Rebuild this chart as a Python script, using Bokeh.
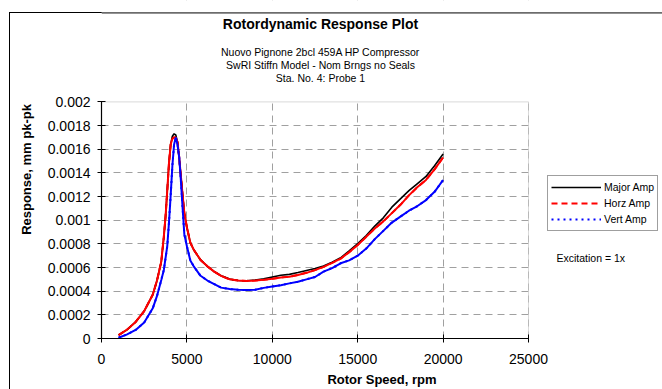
from bokeh.plotting import figure
from bokeh.models import (ColumnDataSource, Legend, LegendItem, Label, BoxAnnotation, Span,
                          FixedTicker, CustomJSTickFormatter, Range1d)
from bokeh.embed import file_html
from bokeh.resources import INLINE

# ---------------- data ----------------
speed_rpm = [1000, 1500, 2000, 2500, 3000, 3250, 3500, 3650, 3750, 3850, 3950, 4050, 4150,
             4250, 4350, 4450, 4550, 4650, 4750, 4850, 5000, 5200, 5400, 5800, 6200, 6600,
             7000, 7500, 8000, 8500, 9000, 9500, 10000, 10500, 11000, 11500, 12000, 12500,
             13000, 13500, 14000, 14500, 15000, 15500, 16000, 16500, 17000, 17500, 18000,
             18500, 19000, 19500, 20000]

major_amp = [0.000029, 0.000075, 0.000140, 0.000232, 0.000370, 0.000490, 0.000650, 0.000860,
             0.00103, 0.00125, 0.00148, 0.00164, 0.00171, 0.00173, 0.00172, 0.00166, 0.00152,
             0.00137, 0.00121, 0.00106, 0.00094, 0.00081, 0.00075, 0.000664, 0.00061, 0.000565,
             0.00053, 0.000502, 0.00049, 0.000488, 0.000495, 0.000505, 0.00052, 0.000535,
             0.000542, 0.000558, 0.000575, 0.000592, 0.000612, 0.000645, 0.000682, 0.00074,
             0.000802, 0.00087, 0.00095, 0.00102, 0.00111, 0.00118, 0.00125, 0.00131, 0.00137,
             0.00146, 0.00156]

horz_amp = [0.000029, 0.000075, 0.000140, 0.000232, 0.000370, 0.000490, 0.000650, 0.000860,
            0.00103, 0.00125, 0.00148, 0.00164, 0.00169, 0.00170, 0.00170, 0.00166, 0.00153,
            0.00137, 0.00121, 0.00106, 0.00094, 0.00081, 0.00075, 0.000664, 0.00061, 0.000565,
            0.00053, 0.000500, 0.00049, 0.000487, 0.00049, 0.000497, 0.000505, 0.000516,
            0.000522, 0.000537, 0.000555, 0.000578, 0.000605, 0.00064, 0.000675, 0.00073,
            0.00079, 0.00086, 0.00093, 0.00099, 0.00106, 0.00113, 0.00121, 0.00128, 0.00134,
            0.00143, 0.00153]

vert_amp = [0.000006, 0.000035, 0.000072, 0.000135, 0.000255, 0.00036, 0.000495, 0.00058,
            0.00068, 0.00078, 0.00098, 0.00121, 0.00146, 0.00164, 0.00170, 0.00164, 0.00153,
            0.00133, 0.00110, 0.00088, 0.00078, 0.00066, 0.00061, 0.00053, 0.00049, 0.00046,
            0.00043, 0.000418, 0.000412, 0.00041, 0.000412, 0.000428, 0.00044, 0.00045,
            0.000466, 0.00048, 0.0005, 0.00052, 0.000565, 0.000595, 0.000636, 0.00066, 0.00070,
            0.00076, 0.00084, 0.00091, 0.00098, 0.00103, 0.00108, 0.00112, 0.00117, 0.00124,
            0.00134]

series_names = ["Major Amp", "Horz Amp", "Vert Amp"]

x_ticks = [0, 5000, 10000, 15000, 20000, 25000]
x_tick_labels = ["0", "5000", "10000", "15000", "20000", "25000"]
y_ticks = [0, 0.0002, 0.0004, 0.0006, 0.0008, 0.001, 0.0012, 0.0014, 0.0016, 0.0018, 0.002]
y_tick_labels = ["0", "0.0002", "0.0004", "0.0006", "0.0008", "0.001", "0.0012", "0.0014",
                 "0.0016", "0.0018", "0.002"]
x_axis_max = 25000
y_axis_max = 0.002

title_text = "Rotordynamic Response Plot"
subtitle_lines = ["Nuovo Pignone 2bcl 459A HP Compressor",
                  "SwRI Stiffn Model - Nom Brngs no Seals",
                  "Sta. No. 4: Probe 1"]
note_text = "Excitation = 1x"

# ---------------- layout geometry (pixels) ----------------
FONT = "Liberation Sans"
W, H = 662, 389
PL, PR, PT, PB = 101, 528, 102, 340      # plot area box
# the frame spans x: PL..W and y: 0..PB so that titles/legend can live inside it
x_end = x_axis_max * (W - PL) / (PR - PL)
y_end = y_axis_max * PB / (PB - PT)

def y_at(py):
    """data y for a canvas pixel row (used only for decoration positions)"""
    return y_axis_max * (PB - py) / (PB - PT)

# outer chart border: CSS lines behind a transparent canvas
border_css = ("linear-gradient(#000,#000) 9px 12px / 1px 400px no-repeat, "
              "linear-gradient(#000,#000) 9px 12px / 700px 1px no-repeat, #ffffff")

p = figure(width=W, height=H, output_backend="svg", toolbar_location=None,
           x_range=Range1d(0, x_end), y_range=Range1d(0, y_end),
           min_border_left=PL, min_border_right=0, min_border_top=0,
           min_border_bottom=H - PB)
p.styles = {"background": border_css}
p.background_fill_alpha = 0
p.border_fill_alpha = 0
p.outline_line_color = None

src = ColumnDataSource(dict(x=speed_rpm, major=major_amp, horz=horz_amp, vert=vert_amp))

# dashed / dotted versions (used for the legend samples), hidden under the solid curves
l_horz = p.line("x", "horz", source=src, line_color="#ff0000", line_width=2, line_dash="6 4")
l_vert = p.line("x", "vert", source=src, line_color="#0000ff", line_width=2, line_dash="2 4")

r_major = p.line("x", "major", source=src, line_color="black", line_width=1.6)
r_horz = p.line("x", "horz", source=src, line_color="#ff0000", line_width=2)
r_vert = p.line("x", "vert", source=src, line_color="#0000ff", line_width=2)

# axes
tick_fmt_js = """
for (let i = 0; i < ticks_.length; i++) {
  if (Math.abs(tick - ticks_[i]) < 1e-12 + Math.abs(ticks_[i]) * 1e-9) { return labels_[i]; }
}
return '';
"""
p.xaxis.ticker = FixedTicker(ticks=x_ticks)
p.xaxis.formatter = CustomJSTickFormatter(args=dict(ticks_=x_ticks, labels_=x_tick_labels),
                                          code=tick_fmt_js)
p.yaxis.ticker = FixedTicker(ticks=y_ticks)
p.yaxis.formatter = CustomJSTickFormatter(args=dict(ticks_=y_ticks, labels_=y_tick_labels),
                                          code=tick_fmt_js)
p.xaxis.bounds = (0, x_axis_max)
p.yaxis.bounds = (0, y_axis_max)

for ax in (p.xaxis[0], p.yaxis[0]):
    ax.axis_line_color = "black"
    ax.axis_line_width = 1.2
    ax.major_tick_line_color = "black"
    ax.major_tick_in = 4
    ax.major_tick_out = 4
    ax.minor_tick_line_color = None
    ax.major_label_text_font = FONT
    ax.major_label_text_font_size = "14px"
    ax.major_label_text_color = "black"
    ax.axis_label_text_font = FONT
    ax.axis_label_text_font_size = "13px"
    ax.axis_label_text_font_style = "bold"
    ax.axis_label_text_color = "black"

p.xaxis.axis_label = "Rotor Speed, rpm"
p.yaxis.axis_label = "Response, mm pk-pk"
p.xaxis.major_label_standoff = 11
p.xaxis.axis_label_standoff = 5
p.yaxis.major_label_standoff = 7
p.yaxis.axis_label_standoff = 11

for g in (p.xgrid[0], p.ygrid[0]):
    g.grid_line_color = "#a0a0a0"
    g.grid_line_dash = "7 5"
    g.grid_line_width = 1

# white-out of grid lines outside the plot area, then the plot-area border
p.add_layout(BoxAnnotation(left=x_axis_max, fill_color="white", fill_alpha=1,
                           line_alpha=0, level="glyph"))
p.add_layout(BoxAnnotation(bottom=y_axis_max, fill_color="white", fill_alpha=1,
                           line_alpha=0, level="glyph"))
p.add_layout(BoxAnnotation(left=0, right=x_axis_max, bottom=0, top=y_axis_max,
                           fill_alpha=0, line_color="#808080", line_width=1, level="glyph"))
p.add_layout(Span(location=y_at(12.5), dimension="width", line_color="black",
                  line_width=1, level="glyph"))

def sx(px):
    return px - PL

def sy(py):
    return PB - py

# legend
legend = Legend(items=[LegendItem(label=series_names[0], renderers=[r_major]),
                       LegendItem(label=series_names[1], renderers=[l_horz]),
                       LegendItem(label=series_names[2], renderers=[l_vert])],
                location=(sx(547), sy(233)))
legend.border_line_color = "#404040"
legend.border_line_width = 1.5
legend.background_fill_color = "white"
legend.background_fill_alpha = 1
legend.label_text_font = FONT
legend.label_text_font_size = "10.5px"
legend.label_text_color = "black"
legend.glyph_width = 50
legend.glyph_height = 16
legend.label_height = 16
legend.label_standoff = 3
legend.spacing = 0
legend.padding = 3
legend.margin = 0
p.add_layout(legend, "center")

p.add_layout(Label(x=sx(556), y=sy(259.5), x_units="screen", y_units="screen",
                   text=note_text, text_align="left", text_baseline="middle",
                   text_font=FONT, text_font_size="10.5px", text_color="black"))

# titles
p.add_layout(Label(x=sx(320), y=sy(25), x_units="screen", y_units="screen",
                   text=title_text, text_align="center", text_baseline="middle",
                   text_font=FONT, text_font_size="14px", text_font_style="bold",
                   text_color="black"))
for txt, yy in zip(subtitle_lines, [53, 66, 79.5]):
    p.add_layout(Label(x=sx(320), y=sy(yy), x_units="screen", y_units="screen",
                       text=txt, text_align="center", text_baseline="middle",
                       text_font=FONT, text_font_size="10.5px", text_color="black"))

open("out.html", "w").write(file_html(p, INLINE))
